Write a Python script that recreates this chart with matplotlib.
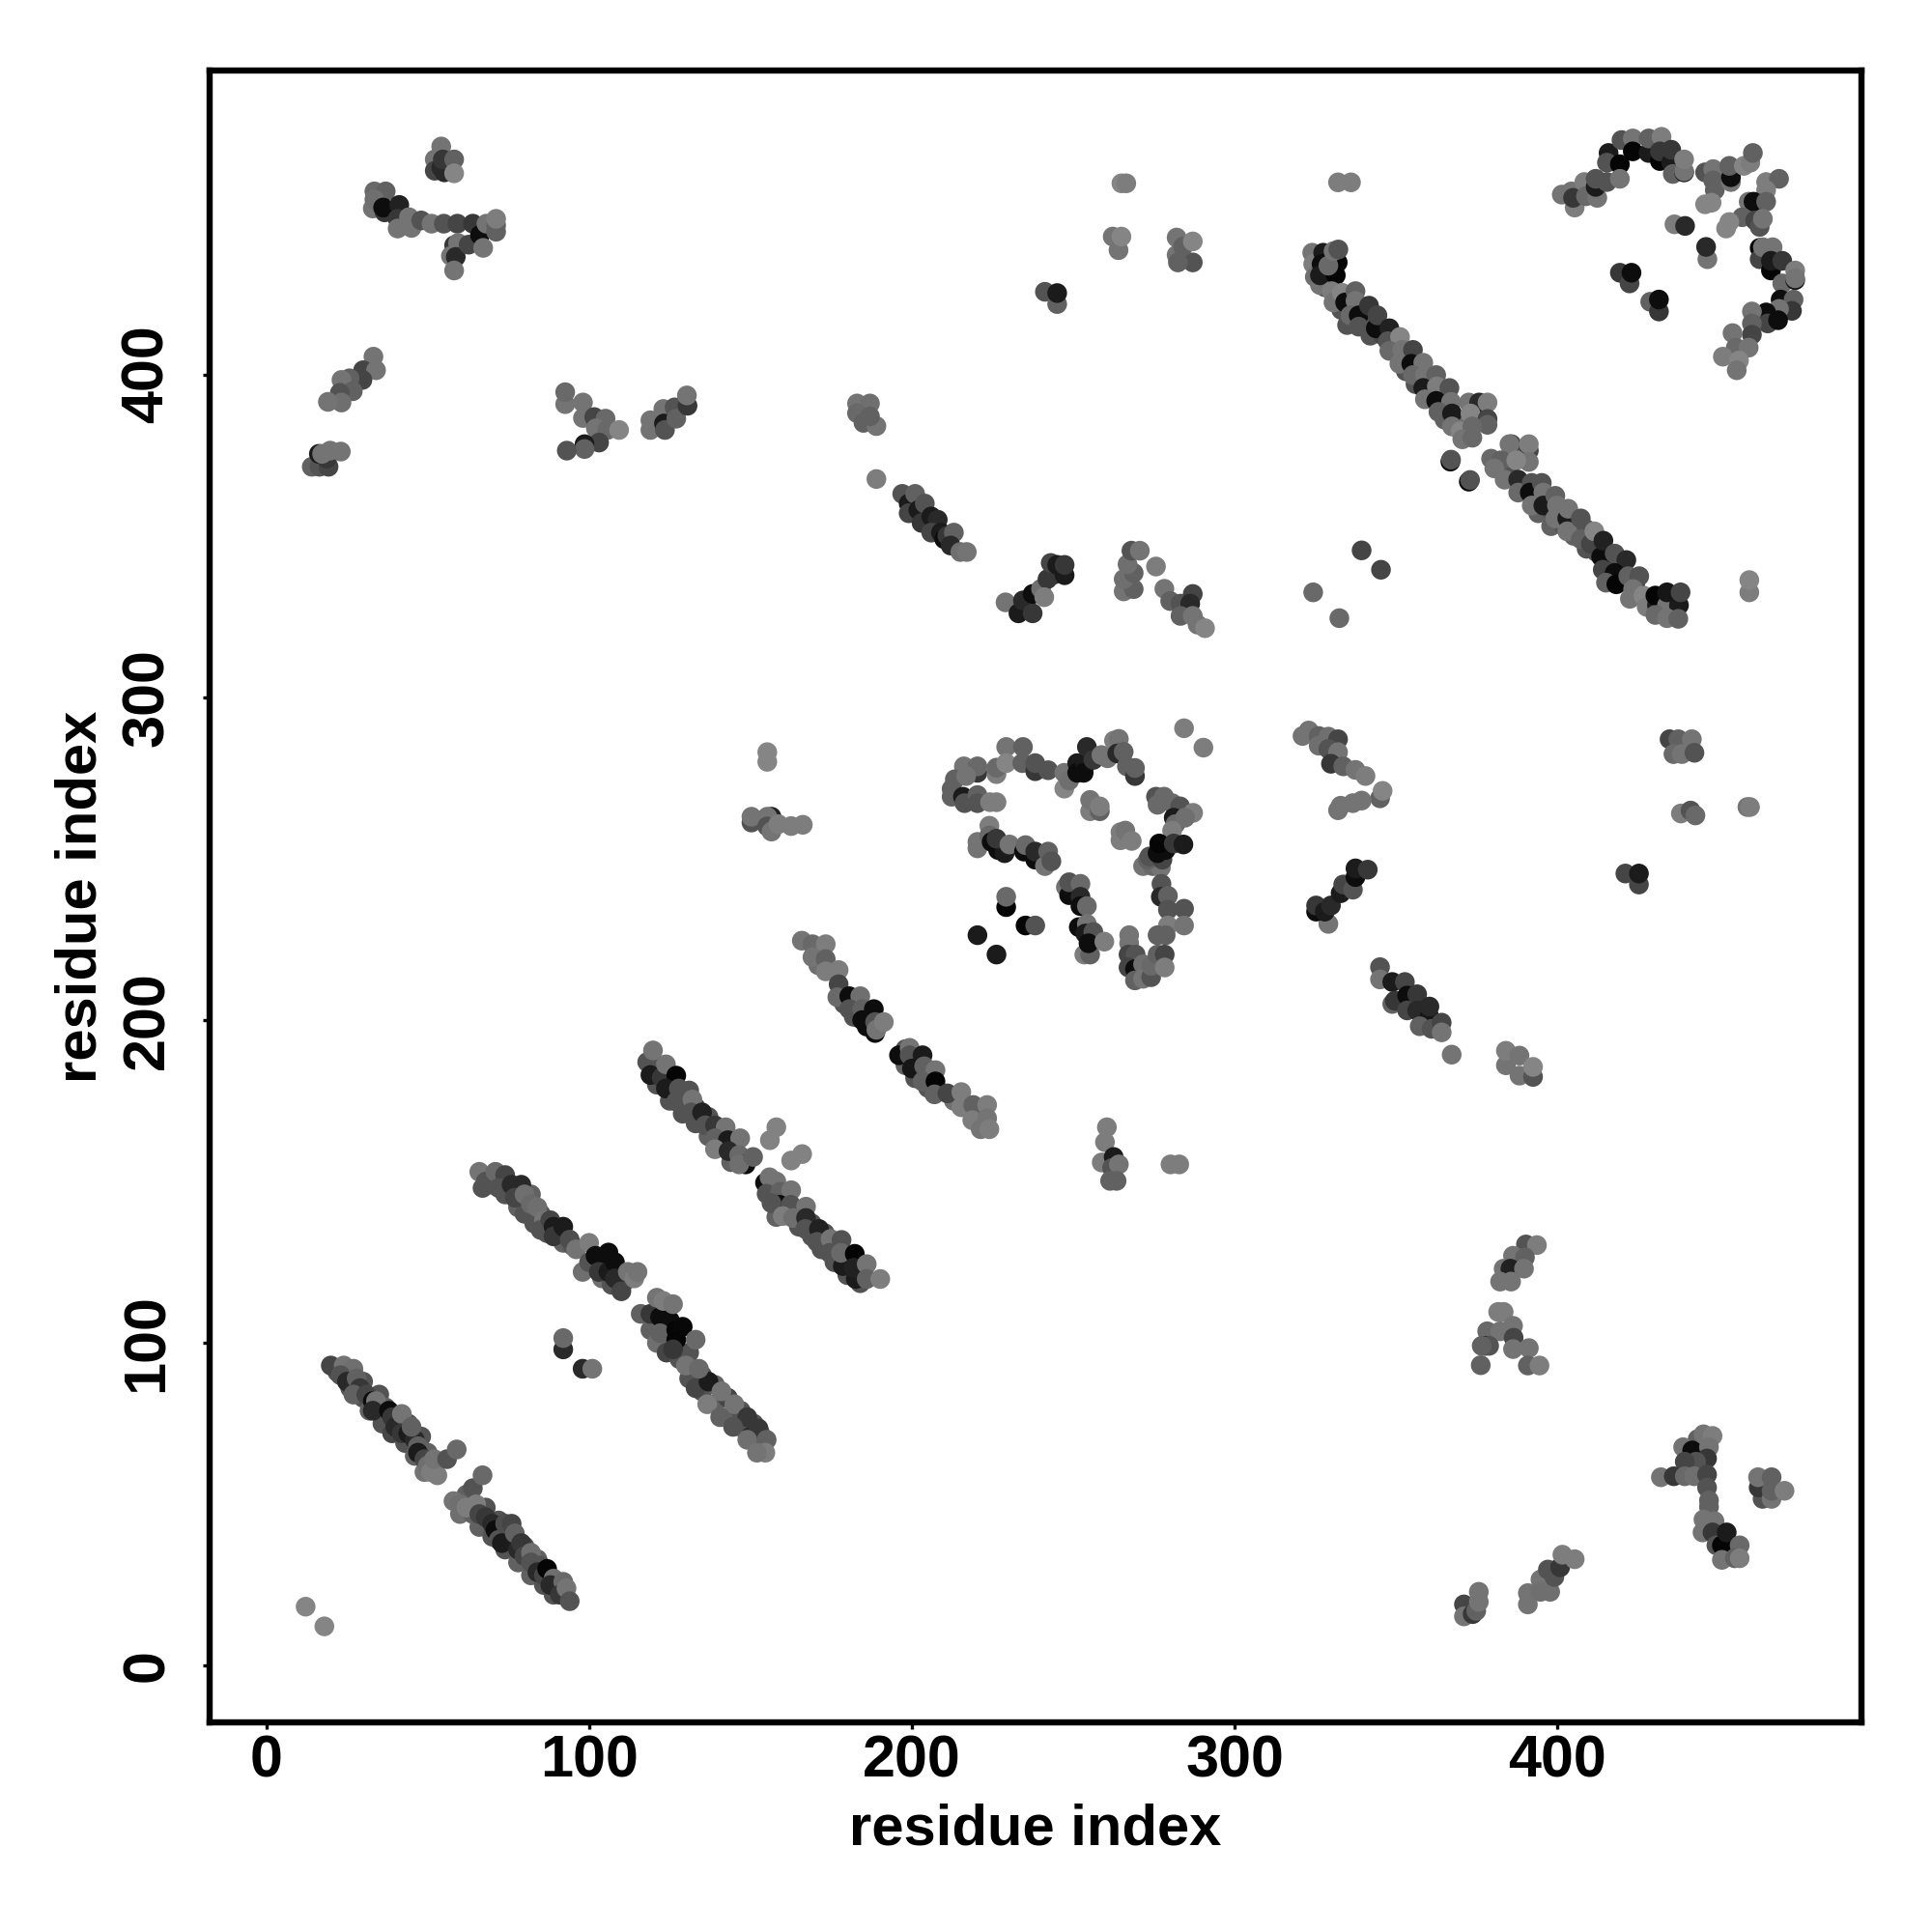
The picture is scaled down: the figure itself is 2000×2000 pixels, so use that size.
import matplotlib
matplotlib.use("Agg")
import matplotlib.pyplot as plt

# contact map, one block per group of contacts: (residue i, residue j, score)
fill_a = [(22,91,.3),(26,90,.35),(30,88,.3),(26,86,.3),(30,83,.3),(35,84,.3),(32,79,.35),(37,80,.35),(36,75,.3),(41,76,.3),(39,72,.25),(44,75,.3),
    (43,69,.3),(48,71,.3),(46,65,.35),(50,66,.35),(49,60,.42),(62,53,.35),(60,47,.4),(64,47,.35),(68,49,.3),(66,43,.35),(72,45,.3),(70,40,.3),
    (76,40,.3),(74,36,.3),(80,37,.3),(78,32,.35),(84,33,.35),(82,28,.35),(87,27,.3),(86,25,.3),(90,25,.3),(89,22,.3)]
fill_b = [(67,148,.3),(70,149,.3),(74,146,.3),(78,142,.35),(82,146,.35),(80,140,.3),(85,140,.3),(83,137,.3),(87,134,.3),(92,131,.35),(95,130,.3),
    (98,122,.4),(101,124,.4),(104,120,.4),(107,118,.3),(111,119,.3),
    (119,104,.35),(121,100,.4),(124,103,.35),(124,97,.25),(128,95,.3),(131,97,.3),(131,89,.3),(135,90,.3),(135,85,.3),(139,87,.35),(139,81,.35),
    (143,83,.25),(143,77,.35),(147,79,.3),(147,74,.3),(151,75,.3),(150,71,.15),(153,72,.35)]
fill_c = [(118,187,.3),(121,180,.3),(125,175,.3),(129,176,.3),(129,171,.3),(133,173,.25),(133,168,.3),(137,170,.3),(137,164,.35),(141,161,.35),
    (141,165,.25),(145,157,.4),(144,156,.35),(156,148,.3),(158,144,.05),(161,145,.3),(158,139,.35),(162,141,.1),(165,140,.3),(165,136,.3),(169,137,.3),
    (169,133,.3),(173,134,.3),(172,129,.3),(176,130,.3),(176,125,.3),(180,125,.1),(184,122,.3),(180,121,.3),(184,118.5,.3)]
fill_d = [(171,217,.4),(179,205,.3),(182,201,.3),(186,198,.05),(198,186,.35),(201,182,.3),(205,179,.3),(206,183,.3),(213,175,.4),(221,171,.45),(198,191,.3)]
fill_e = [(326,432,.35),(328,429,.35),(329,436,.05),(328,427,.3),(333,420,.3),(336,416,.35),(340,416,.3),(342,412,.3),(346,412,.25),(349,408,.3),
    (353,405,.35),(353,401,.3),(357,402,.35),(356,397,.3),(360,398,.3),(360,393,.35),(365,393,.3),(365,386,.35),(371,386,.4),(376,388,.35),
    (381,372,.35),(385,370,.3),(389,365,.35),(394,362,.3),(394,357,.35),(398,358,.3),(398,353,.35),(402,353,.3),(405,350,.35),(409,352,.3),
    (409,346,.3),(412,345,.3),(416,341,.25),(420,340,.2),(419,337,.35),(424,335,.1),(429,330,.35),(432,326,.35),(436,330,.05)]
strand_a = [(20,93,.25),(24,93,.42),(27,92,.4),(23,90,.3),(25,88,.15),(28,89,.35),(29,86,.2),(27,84,.35),(31,84,.25),
    (33,82,.05),(34,80,.4),(34,82,.42),(36,78,.3),(33,79,.15),(38,79,.05),(39,77,.2),(40,74,.15),(42,78,.42),(42,72,.2),
    (44,72,.1),(46,70,.15),(45,74,.35),(47,68,.35),(47,66,.1),(49,64,.25),(50,62,.4),(51,60,.45),(53,59,.45),(52,64,.42),
    (56,64,.3),(59,67,.38),(64,55,.3),(67,59,.38),(58,51,.42),(60,50,.4),(62,49,.45),(65,50,.45),(66,47,.25),(68,46,.2),
    (70,44,.15),(71,42,.05),(72,39,.3),(74,44,.28),(76,44,.25),(73,38,.1),(77,41,.35),(78,36,.15),(79,38,.2),(80,34,.25),
    (82,35,.4),(82,32,.3),(85,31,.3),(84,29,.15),(86,28,.25),(87,30,.02),(89,27,.4),(88,25,.15),(92,26,.38),(91,22,.2),
    (93,24,.42),(94,20,.3)]
strand_b1 = [(66,153,.42),(68,150,.3),(71,153,.38),(74,152,.25),(72,148,.3),(76,149,.15),(79,149,.15),(77,145,.25),
    (80,146,.4),(82,143,.38),(84,142,.4),(86,138,.42),(85,135,.3),(88,138,.25),(89,136,.1),(89,133,.2),(91,134,.2),
    (92,136,.1),(94,132,.28),(96,129,.42),(100,131,.45),(100,125,.3),(102,127,.05),(104,126,.05),(103,122,.2),(106,122,.1),
    (106,128,.05),(108,125,.05),(108,120,.15),(110,116,.25),(112,122,.42),(114,120,.45),(115,122,.42)]
strand_b2 = [(116,109,.35),(119,109,.2),(122,108,.05),(125,107,.05),(121,114,.42),(123,113,.45),(126,112,.42),(122,103,.35),
    (127,104,.02),(129,105,.03),(127,101,.02),(126,98,.2),(133,101,.38),(130,93,.42),(133,86,.25),(137,88,.1),(134,92,.38),
    (141,85,.42),(136.6,81,.45),(145,81,.42),(140.6,77,.35),(149,77,.2),(144.6,74,.3),(152.5,73.5,.2),(149,70,.4),
    (155,70,.35),(154.6,66,.45),(152,66,.42)]
pair_low = [(92,98,.15),(92,101.5,.38),(98,92,.15),(101,92,.42)]
strand_c1 = [(119.5,186.2,.3),(119,183,.1),(119.8,190.6,.42),(122.5,182.2,.2),(123.8,186.3,.42),(127,182.8,.02),(123.8,178.8,.1),
    (127.8,178.8,.3),(131,178.2,.3),(127,174.8,.3),(132,175.4,.42),(131.6,171.4,.3),(135,171.4,.12),(136,167.4,.3),
    (139,167.4,.2),(142.3,166.8,.42),(139,163.4,.35),(143,162.8,.1),(139,160,.45),(146.8,163.4,.42),(143.2,159.4,.15),
    (146.5,158.2,.38),(148.5,155.3,.05),(146.5,155.3,.4),(150.8,157.6,.35),
    (158,166.8,.47),(156,162.8,.47),(166,158.5,.47),(162.6,156.5,.47)]
strand_c2 = [(154.5,149.6,.05),(155.9,151.3,.42),(158,150,.42),(155,146.2,.3),(159.2,146.8,.35),(162.6,147.3,.42),(159,142.8,.05),
    (156.5,143.3,.3),(162.5,142.8,.3),(167.2,142.2,.42),(160,139.3,.45),(163.2,138.7,.4),(167.2,138.7,.15),(167,135.3,.3),
    (171.2,135.3,.12),(170.6,131.3,.3),(174.8,132.2,.42),(178.2,131.9,.3),(174.5,127.9,.3),(178.6,123.8,.1),(178,127.9,.38),
    (182.3,127.6,.02),(182.6,119.8,.1),(182,123.3,.12),(186,124.4,.42),(186,119.8,.35),(190.2,119.8,.45)]
strand_d1 = [(165.9,224.6,.42),(169.2,223.5,.38),(173.3,223.5,.45),(169.2,219.5,.42),(173.3,218.9,.35),(173.3,215.1,.45),
    (177.3,215.5,.45),(177.3,211.1,.25),(176.9,207.1,.38),(180.6,207.4,.05),(184,207.4,.4),(180.6,203.4,.3),(184.6,203.4,.35),
    (188.2,203.4,.05),(184.6,200,.05),(188.6,199.4,.3),(188.6,196,.05),(189,197,.42),(191.3,199.4,.45)]
strand_d2 = [(196,189.1,.05),(199.3,191.4,.42),(199.3,189.1,.3),(203.3,189.1,.1),(200,185,.08),(203.8,185.7,.35),(207.3,184.5,.42),
    (203.3,181,.35),(207.3,181,.02),(207,177,.35),(211,177.3,.25),(215.3,177.7,.45),(215.3,173,.45),(219,173.7,.35),
    (223.3,173.7,.45),(218.7,169,.45),(223.3,169.6,.42),(221.3,166.2,.42),(224,166.2,.45)]
block_155 = [(155.2,283,.48),(155.2,280,.48),(150.3,261.2,.3),(150.3,263,.42),(156.5,263,.12),(155.2,263,.42),(155.2,260,.3),
    (156.5,258.4,.42),(158.6,260.7,.45),(162.6,260.1,.45),(166.2,260.5,.45)]
block_260 = [(260.4,166.8,.45),(259.8,162.2,.45),(258.8,155.9,.45),(262.5,157.6,.1),(262,154.2,.3),(264.1,155.3,.42),
    (261.4,150.2,.35),(263.4,150.2,.35),(280.1,155.3,.45),(282.8,155.3,.45)]
loop_top = [(229.2,284.6,.42),(234.4,284.6,.35),(220.3,276.6,.2),(216.1,278.6,.42),(220.3,278.6,.38),(213.3,274.6,.35),(216.8,275.6,.42),
    (226.2,276.2,.45),(226.2,278.2,.38),(229.2,279.6,.48),(234.2,279.6,.35),(238.2,277.1,.2),(238.2,279.6,.3),(242.2,277.4,.3),
    (212.3,271.6,.35),(212.3,269.2,.35),(215.8,269.2,.1),(216.3,267.2,.3),(220.3,269.7,.35),(220.3,267.2,.3),(224.2,267.5,.45),(226.2,267.5,.45)]
loop_upper = [(247.2,271.7,.48),(247.2,276.6,.42),(248.7,274.2,.4),(251.2,279.6,.1),(251.2,276.6,.05),(253.7,279.1,.1),(254.2,284.6,.15),
    (253.2,276.6,.05),(256.2,280.6,.2),(258.7,282.1,.42),(260.6,281.1,.42),(262.6,286.6,.45),(264.1,287.1,.42),(263.6,282.6,.15),
    (265.6,283.1,.35),(266.6,278.6,.35),(269.1,275.6,.2),(269.1,278.1,.35),
    (255.2,264.7,.45),(255.2,268.2,.42),(258.2,264.7,.35),(258.2,266.2,.45),
    (264.6,255.7,.45),(264.6,258.2,.45),(266.1,258.7,.42),(268.1,255.5,.45)]
loop_right = [(275.6,269.2,.3),(278.1,269.2,.38),(276.1,266.7,.38),(280.6,267.2,.38),(283.1,266.2,.3),(281.1,262.7,.1),(281.6,260.7,.38),
    (287.1,264.2,.45),(284.6,262.7,.4),(280.6,258.7,.45),(271.6,247.7,.42),(274.6,247.7,.38),(277.1,247.2,.42),(273.1,249.7,.35),
    (273.6,250.7,.3),(277.6,249.7,.25),(276.1,251.7,.05),(278.6,252.7,.05),(276.6,254.7,.02),(281.1,254.7,.2),(284.1,254.4,.1),
    (277.3,242.2,.3),(277.1,238.2,.15),(279.3,238.5,.35),(279.3,234.2,.3),(284.3,234.5,.3),(279.3,229.3,.45),(284.3,229.3,.42),
    (276.1,226.3,.35),(278.6,226.3,.35)]
loop_bottom = [(267.3,226.3,.42),(267.3,223.8,.42),(267.1,220.3,.25),(269.3,220.3,.3),(267.1,216.3,.25),(269.1,215.8,.05),(271.6,217.3,.4),
    (269.1,212.3,.35),(271.6,212.8,.42),(274.1,213.3,.3),(274.1,216.8,.38),(276.1,220.3,.35),(278.3,220.3,.25),(278.3,216.3,.45)]
loop_middle = [(224,260.2,.45),(220.3,253.2,.42),(220.3,255.2,.42),(224,257.2,.38),(224.7,255.2,.05),(226.7,252.7,.05),(228.7,251.7,.1),(226.2,256.2,.2),
    (230.2,254.4,.42),(234.7,252.2,.05),(235.2,254.2,.38),(238.2,249.7,.05),(238.2,252.2,.15),(241.2,247.7,.42),(242.2,252.2,.35),(243.2,249.2,.3),
    (247.7,241.2,.42),(248.7,238.7,.05),(248.7,242.7,.3),(252.2,242.2,.38),(252.2,238.2,.15),(252.2,235.3,.05),(254.2,235.3,.38),
    (251.7,228.8,.05),(254.2,229.8,.42),(253.7,226.8,.1),(256.2,227.3,.3),(253.4,220.3,.45),(255.2,220.3,.35),(254.7,223.8,.05),(259.6,224.3,.45)]
loop_small = [(229.2,235,.02),(229.2,238.2,.38),(235.2,229.3,.02),(238.2,229.3,.3),(220.3,226.3,.1),(226.2,220.3,.1),(284.3,290.4,.45),(290.3,284.4,.45)]
diag_e1 = [(324,437.7,.42),(324.3,434.2,.45),(324.8,430.2,.4),(326.4,427.7,.42),(327.4,437.7,.1),(326.9,434.2,.05),(326.4,430.7,.1),
    (331.3,430.7,.02),(331.9,434.7,.02),(329,433.7,.38),(330.6,438.2,.42),(332.1,438.7,.3),(330,425.8,.45),(330.6,422.3,.42),(333.2,425.3,.48),
    (334.2,422.3,.05),(337.4,425.8,.35),(337.4,422.8,.42),(334.8,415.3,.3),(335.8,418.3,.38),(338.4,418.3,.05),(338.4,414.8,.3),(341.6,421.3,.2),
    (343.7,414.3,.05),(344.2,418.3,.25),(347.9,414.3,.12),(347.4,410.3,.3),(351.2,411.6,.48),(347.9,407.3,.38),(351.9,407.6,.42),(355.2,407.6,.25),
    (351,403.3,.42),(354.7,403.3,.05),(358.4,403.6,.42),(355.2,399.8,.38),(358.9,399.8,.42),(362.4,399.8,.35),(358.4,395.8,.1),(362.6,396.3,.45),
    (366.5,395.8,.3),(358.9,392.3,.42),(362.4,391.8,.05),(367,391.5,.42),(363.1,388.4,.35),(367.3,387.9,.1),(372.5,391.3,.42),(375.7,391.3,.15),
    (378.3,391.3,.45),(373,387.9,.48),(378.3,386.2,.25),(378.3,384.4,.35),(367.3,383.9,.42),(369.9,382.4,.48),(373.6,383.9,.38),(370.5,379.9,.42),(373.6,380.4,.38),
    (366.8,373,.02),(367,373.6,.3),(372.5,366.8,.02),(372.9,367.3,.3)]
diag_e2 = [(385.7,378.4,.25),(385.1,378.4,.42),(391.1,376.4,.25),(391.1,378.4,.45),(391.1,372.9,.42),(379.4,373.9,.38),(382.5,373.4,.35),(380.4,370.9,.42),
    (383.6,367.4,.42),(387.2,373.4,.48),(387.8,367.4,.15),(387.8,363.4,.38),(392,366.4,.3),(391.4,363.4,.05),(395.1,366.4,.3),(395.6,363.4,.42),
    (392,359.4,.42),(395.6,359.4,.1),(399.3,362.4,.35),(399.8,359.4,.42),(399.3,355.4,.42),(403,355.4,.1),(403.3,358.4,.42),(403,351.4,.42),(407.2,355.4,.3),
    (407.2,349,.35),(410.3,347.5,.25),(411.4,351.4,.48),(413.5,343.5,.05),(414.2,348.5,.12),(417.7,344.5,.3),(414,339.5,.25),(421.3,342.5,.15),(417.7,338.5,.05),
    (415,335.5,.35),(418.2,335,.02),(421.9,337.5,.35),(425.3,337.5,.3),(423.4,333.5,.42),(422.4,330.5,.42),(426.6,331.5,.48),(427.6,328,.45),(430.8,328.5,.1),
    (430.3,331.5,.02),(433.9,328.5,.42),(437.6,328.5,.1),(433.9,332.5,.08),(438.1,332.5,.25),(430.3,325.5,.38),(433.9,324.5,.42),(437.4,324.3,.35)]
scatter_e = [(339.3,345.5,.25),(345.3,339.5,.25),(324.3,332.5,.38),(332.4,324.5,.38),(459.4,332.5,.45),(459.4,336.3,.48)]
arc_top = [(401.3,455.7,.42),(404.3,456.7,.42),(405.3,451.7,.45),(404.8,454.7,.2),(408.3,459.6,.45),(408.8,455.2,.38),(412.3,454.7,.42),(411.8,458.1,.1),(411.8,460.6,.3),
    (415.8,468.6,.1),(415.3,465.6,.3),(415.3,459.6,.3),(419.3,465.1,.02),(419.3,460.6,.42),(419.8,472.6,.3),(423.3,473.1,.42),(423.3,469.1,.02),(428.2,468.6,.1),(428.2,473.1,.35),
    (432.2,473.6,.45),(431.7,466.1,.02),(431.7,469.1,.2),(435.2,465.6,.1),(435.2,469.6,.2),(435.7,462.1,.35),(439.2,462.6,.02),(439.2,462.9,.42),(439.2,466.6,.45),
    (445.7,462.6,.3),(448.2,463.6,.42),(448.2,460.1,.35),(448.7,457.1,.35),(445.7,452.7,.48),(447.7,453.2,.48),(453.7,459.6,.42),(453.7,461.1,.05),(453.2,464.6,.35),
    (457.7,464.6,.48),(459.7,465.6,.45),(460.5,468.6,.35),(464.6,459.6,.45),(468.6,460.6,.35),(464.6,457.1,.45),(459.2,453.5,.42),(460.7,453.5,.05),(464.6,453.5,.35),
    (457.2,448.7,.35),(453.2,447.2,.48),(452.2,445.2,.48),(461.2,447.7,.25),(462.6,445.7,.3),(463.6,448.2,.42)]
arc_inner = [(436.2,446.5,.45),(439.5,446,.15),(446.4,435.7,.42),(446,439.5,.15),(419.3,431.5,.2),(422.3,428.2,.25),(422.9,431.5,.05),(428.7,422.5,.35),(431.4,419.5,.2),(431.4,423.2,.05)]
arc_right = [(462.6,439.2,.02),(462.6,435.7,.25),(463.6,439.4,.42),(466.6,439.4,.42),(466.1,432.2,.02),(466.1,435.2,.1),(469.6,435.2,.2),(469.6,428.2,.38),(473.6,429.2,.08),
    (473.6,432.2,.45),(473.6,429.8,.42),(469.1,423.2,.05),(473.1,423.2,.35),(472.6,419.7,.2),(468.6,420.3,.42),(464.6,419.2,.05),(465.1,415.8,.25),(468.3,416.8,.05),
    (460.2,419.5,.42),(460.2,415.8,.35),(460.2,412.3,.25),(454.2,412.8,.42),(455.2,408.3,.38),(459.2,408.3,.42),(451.2,405.5,.45),(456.2,404.3,.48),(455.5,401.3,.42)]
corner_top = [(52.2,466.6,.42),(52.2,463.1,.25),(54.2,470.6,.42),(55.2,462.6,.15),(54.2,464.1,.15),(54.7,466.6,.2),(58.2,466.6,.35),(58.2,462.3,.48)]
corner_band = [(33.5,456.7,.38),(37,456.7,.35),(33,451.4,.42),(33.5,454.2,.4),(36.7,450.2,.2),(36.2,451.7,.05),(41.2,452.5,.12),(40.7,448.2,.2),(40.7,445.2,.42),(44.2,448.7,.42),
    (45,445.4,.42),(48,447.7,.3),(51.2,446.7,.42),(55,446.7,.3),(59.2,446.7,.25),(64,446.7,.2),(58.2,440,.2),(59.4,440.7,.42),(57.2,436.7,.42),(58.7,436.4,.15),(58.2,432.2,.42),
    (62.7,440.2,.25),(66.2,443.2,.05),(67.2,439.2,.42),(68.2,446.7,.42),(71.2,444.2,.35),(71.2,446.2,.35),(71.2,448.2,.45)]
corner_left = [(33.2,405.5,.42),(30,401.3,.25),(34,401.3,.42),(29.8,398.3,.25),(25.8,398.8,.35),(23.3,398.3,.42),(26.8,394.8,.35),(22.8,394.3,.3),(23.3,391.3,.4),(19.1,391.5,.42),
    (14.1,371.4,.35),(16.5,371.4,.3),(19.3,371.4,.25),(16.3,375.4,.1),(18.8,373.9,.2),(17.3,375.4,.42),(19.8,376.4,.42),(23.1,376.1,.42)]
corner_mid = [(92.6,390.8,.42),(92.6,394.5,.38),(98.1,391.3,.42),(98.1,386.5,.42),(101.6,386.8,.25),(105.1,386.3,.38),(102.1,383.3,.42),(105.6,382.8,.38),(109.3,382.8,.48),
    (103.1,378.9,.25),(98.6,378.4,.1),(98.6,376.9,.35),(93.1,376.4,.3),
    (119,385.8,.42),(119,382.8,.42),(123,389.3,.42),(123.2,384.8,.1),(123.5,382.8,.3),(126.5,389.8,.3),(127,386.3,.35),(130.5,390.3,.2),(130.3,393.5,.42)]
mid_f = [(183,391,.42),(187,391,.4),(183,388,.38),(185,385,.35),(189,384,.42),(187,387,.35),(189,367.6,.45),
    (197,363,.3),(199,360,.1),(201,363,.35),(199,357,.25),(202,358,.1),(204,360,.3),(203,354,.2),(206,356,.1),(208,355,.15),(206,351,.25),(209,351,.1),(210,349,.05),(211,350,.2),
    (213,351,.35),(212,347,.15),(215,345,.4),(217,345,.42)]
mid_g = [(229,329.4,.42),(233,326,.1),(236,327,.1),(234.4,330,.15),(237.4,326,.2),(237.4,332,.05),(240,333.6,.4),(242,336.6,.2),(241,331,.45),(244,338,.2),(243,341.6,.25),(245,341,.1),(247.3,337.8,.1),(247.3,341,.2)]
mid_h = [(265.6,332.8,.42),(268.7,333.5,.35),(265.6,336.6,.4),(268.7,338.5,.35),(266.8,341.2,.4),(268,345.4,.3),(270.6,345.4,.42),(275.6,340.5,.45),(278.2,333.6,.42),(280,329.8,.35),
    (283.2,329,.3),(287,332,.25),(286.2,329,.15),(283.2,325.2,.35),(287,325.2,.42),(288.5,322.5,.42),(290.8,321.4,.48)]
top_bits = [(241.2,425.6,.3),(245,421.8,.35),(245,425.2,.1),(264.9,459.2,.48),(266.4,459.2,.45),(262.2,442.7,.42),(264,438.5,.42),(264.9,442.7,.48),
    (282,442.4,.42),(282,437,.42),(287,434.7,.3),(282.4,434.7,.35),(284,439.6,.35),(287,441.2,.48),(332,459.5,.45),(336,459.5,.45)]
side_a = [(322.9,289.7,.42),(321,288,.42),(326,288,.35),(326,285,.4),(329,287.8,.4),(332,287,.25),(329,284,.3),(332,283,.42),(329.8,279.4,.2),(333.6,278.6,.35),(337.4,277.5,.42),
    (340.5,275.6,.45),(345,268.7,.35),(345.8,271,.48),(339.3,268,.42),(336.6,267.2,.42),(332.8,266.4,.42),(332,265,.42)]
side_b = [(329,229.8,.42),(325.2,233.6,.05),(325.2,235.5,.2),(327.9,233.6,.1),(329.8,235.5,.15),(332.8,239.3,.1),(333.6,242,.25),(336.6,240.4,.3),(337.4,244.3,.05),(337.4,247,.1),(341.2,246.6,.2)]
strand_g = [(345,216.4,.3),(345,212.6,.42),(348.8,211.8,.1),(352.7,211.8,.25),(348.8,205,.35),(349.6,206,.2),(353.4,207.6,.05),(356.5,208,.2),(353.4,203,.25),(356.5,203,.15),(360.3,201,.08),
    (360.3,204.2,.15),(357.3,198.1,.35),(361,197.3,.3),(364.1,199.2,.25),(364.1,196.2,.42),(367.2,189.3,.42)]
side_c = [(384,186,.42),(384,190.5,.45),(388.2,189,.42),(388.2,182.8,.42),(392.4,182.4,.3),(392.4,185.5,.48)]
lower_a = [(390.2,130.5,.3),(393.6,130.3,.45),(386.2,127,.42),(389.9,126.5,.35),(383.3,123,.42),(385.4,123,.12),(389.6,123,.42),(382.2,119,.42),(385.6,119,.42),
    (381.6,109.6,.45),(383.3,109.6,.45),(378.2,103.6,.38),(382.2,103.6,.42),(386.2,105.3,.42),(386.4,101.6,.25),(377.6,99.1,.05),(378.8,99.1,.3),(376.5,99.1,.35),(386.2,98.1,.42),(391.1,98.4,.42),
    (376.2,93.1,.35),(390.8,93,.35),(394.4,93,.45)]
lower_b = [(443.4,70.2,.35),(445.2,71.7,.42),(448,71.2,.45),(438.9,67.7,.42),(441.7,66.7,.05),(446.9,67.7,.42),(446.3,64.2,.2),(442.9,63.2,.3),(439.4,63.2,.25),(432,58.4,.42),(436,58.7,.2),
    (439.4,58.7,.38),(442.3,58.7,.4),(446.3,59.2,.25),(446.3,55.2,.3),(446.9,51.2,.35),(446.9,49.2,.35),(445.2,45.3,.42),(448.6,44.8,.42),(444.9,41.3,.42),(448,41.3,.2),(449.2,37.3,.3),(450.9,37.3,.02),
    (452.4,41.3,.1),(456.4,37.3,.38),(450.9,32.8,.42),(454.9,33.3,.35),(456.4,33.3,.45),
    (463.5,51.7,.3),(462.3,55.2,.2),(462.1,58.4,.42),(466.3,51.7,.42),(466.3,58.4,.35),(466.3,54.2,.35),(470.3,54.2,.45)]
lower_c = [(371,19,.25),(371,15.3,.42),(373.7,16,.2),(374.8,17,.35),(375.6,19.8,.42),(375.6,22.9,.42),(390.8,19,.42),(390.8,22.5,.42),(394.7,26.7,.42),(394.7,22.9,.4),(397.7,22.9,.4),
    (397,29.8,.3),(399,27.5,.3),(400.8,30.5,.2),(401.5,34.4,.45),(405.3,33,.45),(12.2,18.3,.48),(18,12.2,.48)]
right_bits = [(434.7,287,.25),(437.4,287,.35),(441.6,287,.42),(435.9,282.4,.38),(438.5,282.4,.42),(442.4,282.8,.3),(438.2,264,.45),(441.2,264.9,.3),(442.7,263.4,.38),(458.8,266,.42),(459.6,266,.45),
    (421,245.4,.25),(425.2,242,.25),(425.2,245.4,.1)]

all_blocks = [fill_a, fill_b, fill_c, fill_d, fill_e, strand_a, strand_b1, strand_b2, pair_low, strand_c1, strand_c2, strand_d1, strand_d2, block_155, block_260,
    loop_top, loop_upper, loop_right, loop_bottom, loop_middle, loop_small, diag_e1, diag_e2, scatter_e, arc_top, arc_inner,
    arc_right, corner_top, corner_band, corner_left, corner_mid, mid_f, mid_g, mid_h, top_bits, side_a, side_b, strand_g,
    side_c, lower_a, lower_b, lower_c, right_bits]
tick_values = [0, 100, 200, 300, 400]

plt.rcParams["font.family"] = ["Liberation Sans", "DejaVu Sans"]
plt.rcParams["font.weight"] = "bold"

fig, ax = plt.subplots(figsize=(10, 10))
fig.subplots_adjust(left=0.1084, right=0.9636, bottom=0.1084, top=0.9636)

points = [p for block in all_blocks for p in block]
ax.scatter([p[0] for p in points], [p[1] for p in points], c=[p[2] for p in points],
           cmap="gray", vmin=0, vmax=0.92, s=54, linewidths=0)

ax.set_xlim(-17.6, 494.2)
ax.set_ylim(-17.6, 494.2)
ax.set_xticks(tick_values)
ax.set_yticks(tick_values)
ax.tick_params(length=2.5, width=1.2, labelsize=22)
ax.tick_params(axis="x", pad=2)
ax.tick_params(axis="y", pad=10)
for lab in ax.get_yticklabels():
    lab.set_rotation(90)
    lab.set_va("center")
ax.set_xlabel("residue index", fontsize=21.5, fontweight="bold", labelpad=5)
ax.set_ylabel("residue index", fontsize=21.5, fontweight="bold", labelpad=5)
for sp in ax.spines.values():
    sp.set_linewidth(2.3)

fig.savefig("out.png", dpi=200)
